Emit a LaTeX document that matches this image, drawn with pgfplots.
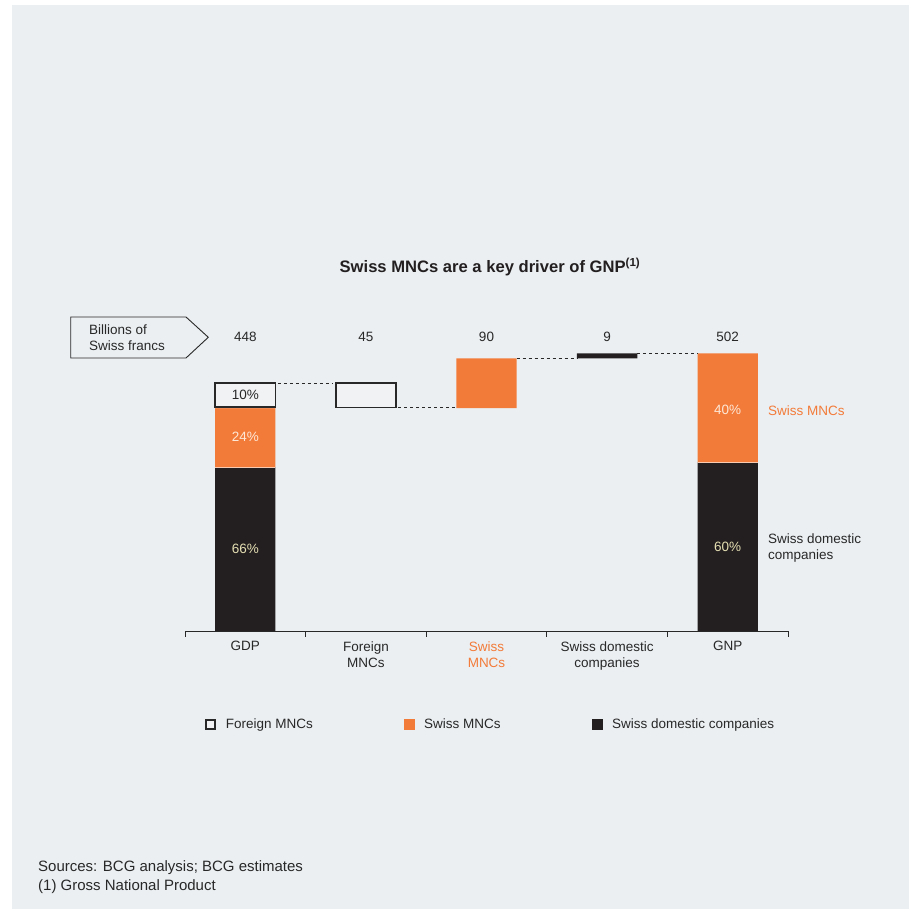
\documentclass[border=0pt]{standalone}
\usepackage{fontspec}
\setmainfont{Liberation Sans}
\usepackage{pgfplots}
\pgfplotsset{compat=1.18}
\definecolor{bg}{RGB}{235,239,242}
\definecolor{bcgorange}{RGB}{243,123,57}
\definecolor{bcgblack}{RGB}{35,31,32}
\definecolor{txt}{RGB}{40,40,40}
\definecolor{pale}{RGB}{228,222,178}
\definecolor{peach}{RGB}{253,232,215}
\definecolor{boxfill}{RGB}{240,242,244}
\newcommand{\lbl}{\fontsize{13.5bp}{16bp}\selectfont}
\begin{document}
\begin{tikzpicture}[font=\lbl, text=txt]
\path (0,0) rectangle (909bp,909bp);
\begin{axis}[
  set layers,
  at={(185bp,278bp)}, anchor=south west,
  scale only axis, width=603bp, height=277.6bp,
  xmin=-0.5, xmax=4.5, ymin=0, ymax=502,
  clip=false,
  axis y line=none, axis x line*=bottom,
  x axis line style={draw=txt, line width=0.8bp, -},
  xtick={-0.5,0.5,1.5,2.5,3.5,4.5},
  xticklabels={},
  tick align=outside, major tick length=6bp,
  xtick style={draw=txt, line width=0.8bp},
  extra x ticks={0,1,2,3,4},
  extra x tick labels={GDP, Foreign\\MNCs, \textcolor{bcgorange}{Swiss}\\\textcolor{bcgorange}{MNCs}, Swiss domestic\\companies, GNP},
  extra x tick style={major tick length=0pt, tick style={draw=none}},
  xticklabel style={align=center, font=\lbl, text=txt, yshift=-7bp},
  ybar stacked, bar width=0.5, reverse stacked plots=false,
  legend style={draw=none, fill=none, font=\lbl, legend columns=3,
    at={(0.0332,-0.3368)}, anchor=west, inner sep=0pt,
    /tikz/every odd column/.append style={column sep=8bp},
    /tikz/every even column/.append style={column sep=89bp},
    legend cell align=left},
]
\begin{pgfonlayer}{axis background}
\fill[bg] (axis cs:-1.9345,-502.72) rectangle (axis cs:5.5033,1132.03);
\end{pgfonlayer}
\addlegendimage{legend image code/.code={\draw[draw=txt, line width=1.6bp, fill=boxfill] (0bp,-4.5bp) rectangle (9bp,4.5bp);}}
\addlegendentry{Foreign MNCs}
\addlegendimage{legend image code/.code={\fill[bcgorange] (0bp,-5bp) rectangle (10bp,5bp);}}
\addlegendentry{Swiss MNCs}
\addlegendimage{legend image code/.code={\fill[bcgblack] (0bp,-5bp) rectangle (10bp,5bp);}}
\addlegendentry{Swiss domestic companies}
% invisible offsets
\addplot[draw=none, fill=none, forget plot] coordinates {(0,0) (1,403.2) (2,403.2) (3,493) (4,0)};
% Swiss domestic companies
\addplot[draw=none, fill=bcgblack, forget plot] coordinates {(0,295.7) (1,0) (2,0) (3,9) (4,304.5)};
% Swiss MNCs
\addplot[draw=none, fill=bcgorange, forget plot] coordinates {(0,107.5) (1,0) (2,89.8) (3,0) (4,197.5)};
% Foreign MNCs
\addplot[draw=none, fill=boxfill, forget plot] coordinates {(0,44.8) (1,44.8) (2,0) (3,0) (4,0)};
% separators between segments
\addplot[on layer=axis foreground, stack plots=false, sharp plot, draw=white!60!bcgorange, line width=0.9bp, forget plot] coordinates {(-0.25,295.7) (0.25,295.7)};
\addplot[on layer=axis foreground, stack plots=false, sharp plot, draw=white!60!bcgorange, line width=0.9bp, forget plot] coordinates {(3.75,304.5) (4.25,304.5)};
% borders of foreign boxes
\addplot[on layer=axis foreground, stack plots=false, sharp plot, draw=txt, line width=1.8bp, line cap=rect, forget plot] coordinates {(-0.25,405) (0.25,405) (0.25,448) (-0.25,448) (-0.25,405)};
\addplot[on layer=axis foreground, stack plots=false, sharp plot, draw=txt, line width=1.8bp, line cap=rect, forget plot] coordinates {(0.75,404.2) (1.25,404.2) (1.25,448) (0.75,448) (0.75,404.2)};
% connectors
\addplot[on layer=axis foreground, stack plots=false, sharp plot, draw=txt, line width=0.7bp, dash pattern=on 3bp off 3bp, forget plot] coordinates {(0.27,448) (0.73,448)};
\addplot[on layer=axis foreground, stack plots=false, sharp plot, draw=txt, line width=0.7bp, dash pattern=on 3bp off 3bp, forget plot] coordinates {(1.27,404.2) (1.75,404.2)};
\addplot[on layer=axis foreground, stack plots=false, sharp plot, draw=txt, line width=0.7bp, dash pattern=on 3bp off 3bp, forget plot] coordinates {(2.25,493) (2.75,493)};
\addplot[on layer=axis foreground, stack plots=false, sharp plot, draw=txt, line width=0.7bp, dash pattern=on 3bp off 3bp, forget plot] coordinates {(3.25,502) (3.75,502)};
\begin{pgfonlayer}{axis foreground}
% value labels
\node at (axis cs:0,532) {448};
\node at (axis cs:1,532) {45};
\node at (axis cs:2,532) {90};
\node at (axis cs:3,532) {9};
\node at (axis cs:4,532) {502};
% percentages
\node at (axis cs:0,426.5) {10\%};
\node[text=peach] at (axis cs:0,351) {24\%};
\node[text=pale] at (axis cs:0,148) {66\%};
\node[text=peach] at (axis cs:4,400) {40\%};
\node[text=pale] at (axis cs:4,152) {60\%};
% right labels
\node[anchor=west, inner sep=0pt, text=bcgorange] at (axis cs:4.334,397.8) {Swiss MNCs};
\node[anchor=west, inner sep=0pt, align=left] at (axis cs:4.334,150) {Swiss domestic\\companies};
\end{pgfonlayer}
\end{axis}
\node[font=\fontsize{16.6bp}{19bp}\selectfont\bfseries, text=bcgblack] at (490bp,642bp) {Swiss MNCs are a key driver of GNP\textsuperscript{(1)}};
% units box
\draw[txt, line width=0.9bp] (70.7bp,592bp) -- (186bp,592bp) -- (208.3bp,571.7bp) -- (186bp,551bp) -- (70.7bp,551bp) -- cycle;
\node[anchor=west, align=left, inner sep=0pt] at (89bp,571.5bp) {Billions of\\Swiss francs};
\node[anchor=base west, inner sep=0pt, font=\fontsize{15bp}{18bp}\selectfont] at (38bp,37.3bp) {Sources: BCG analysis; BCG estimates};
\node[anchor=base west, inner sep=0pt, font=\fontsize{15bp}{18bp}\selectfont] at (38bp,19bp) {(1) Gross National Product};
\end{tikzpicture}
\end{document}
